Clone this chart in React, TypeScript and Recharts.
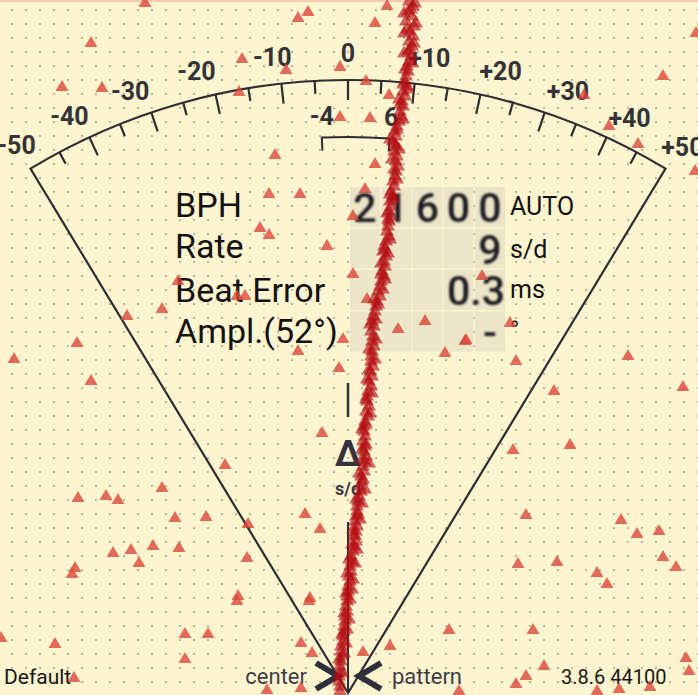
import { ScatterChart, Scatter, XAxis, YAxis, Customized } from "recharts";

const W = 698;
const H = 695;

// stray beats (light red), [offset, time] in screen units
const noise: [number, number][] = [
  [145, 2], [298, 17], [308, 11], [91, 42], [62, 86], [102, 87], [242, 58], [286, 69],
  [340, 66], [239, 91], [340, 116], [275, 154], [269, 193], [300, 193], [387, 5], [375, 22],
  [366, 80], [389, 94], [370, 117], [375, 163], [696, 32], [663, 75], [584, 94], [609, 125],
  [638, 143], [695, 170], [260, 227], [269, 234], [327, 245], [353, 215], [365, 188], [353, 273],
  [178, 280], [237, 295], [245, 295], [162, 308], [367, 298], [482, 275], [425, 320], [398, 328],
  [510, 322], [465, 340], [445, 352], [343, 338], [298, 350], [516, 360], [339, 367], [322, 432],
  [127, 315], [77, 342], [14, 358], [91, 380], [225, 464], [162, 487], [78, 497], [106, 495],
  [118, 499], [175, 517], [206, 516], [248, 523], [113, 552], [131, 549], [153, 545], [179, 547],
  [139, 562], [75, 567], [72, 573], [247, 557], [238, 595], [466, 339], [628, 355], [683, 386],
  [554, 390], [570, 444], [513, 449], [526, 514], [621, 519], [637, 533], [659, 530], [663, 556],
  [676, 566], [518, 563], [557, 561], [597, 572], [607, 583], [1, 637], [55, 643], [185, 633],
  [208, 633], [185, 658], [74, 677], [237, 600], [309, 600], [301, 642], [312, 652], [267, 689],
  [301, 687], [363, 651], [390, 645], [449, 629], [533, 629], [544, 665], [526, 675], [516, 683],
  [459, 690], [597, 690], [619, 688], [650, 686], [686, 657], [689, 670], [320, 528], [310, 597],
  [305, 513],
];

// the running trace (dark red)
const trace: [number, number][] = [
  [409, 0], [413, 5], [408, 10], [412, 15], [406, 20], [414, 25], [410, 30], [413, 35],
  [409, 40], [412, 45], [408, 50], [411, 55], [409, 60], [407, 65], [408, 70], [406, 75],
  [405, 80], [407, 85], [403, 90], [405, 95], [402, 100], [403, 105], [400, 110], [401, 115],
  [399, 120], [397, 125], [395, 130], [396, 135], [393, 140], [396, 145], [394, 150], [397, 155],
  [396, 160], [398, 165], [396, 170], [395, 175], [393, 180], [394, 185], [391, 190], [393, 195],
  [390, 200], [391, 205], [389, 210], [391, 215], [389, 220], [388, 225], [387, 230], [389, 235],
  [386, 240], [384, 245], [383, 250], [386, 255], [384, 260], [385, 265], [382, 270], [384, 275],
  [381, 280], [380, 285], [378, 290], [380, 295], [377, 300], [376, 305], [375, 310], [373, 315],
  [372, 320], [374, 325], [371, 330], [373, 335], [372, 340], [374, 345], [372, 350], [371, 355],
  [371, 360], [373, 365], [370, 370], [372, 375], [369, 380], [371, 385], [368, 390], [367, 395],
  [367, 400], [369, 405], [366, 410], [368, 415], [365, 420], [364, 425], [364, 430], [365, 435],
  [363, 440], [365, 445], [364, 450], [366, 455], [365, 460], [363, 465], [364, 470], [361, 475],
  [362, 480], [360, 485], [361, 490], [359, 495], [358, 500], [357, 505], [357, 510], [356, 515],
  [355, 520], [357, 525], [356, 530], [355, 535], [356, 540], [354, 545], [353, 550], [351, 555],
  [352, 560], [350, 565], [351, 570], [349, 575], [350, 580], [348, 585], [348, 590], [347, 595],
  [347, 600], [346, 605], [347, 610], [345, 615], [345, 620], [344, 625], [344, 630], [343, 635],
  [343, 640], [341, 645], [341, 650], [342, 655], [341, 660], [340, 665], [340, 670], [339, 675],
  [339, 680], [340, 685], [340, 690],
  [415, 2], [404, 12], [416, 22], [404, 32], [414, 42], [404, 52], [412, 62], [408, 88],
  [399, 98], [403, 118], [390, 138], [399, 148], [392, 158], [397, 178], [393, 198], [387, 212],
  [390, 238], [388, 252], [381, 262], [385, 278], [383, 288], [374, 298], [376, 318], [376, 338],
  [375, 358], [367, 378], [372, 392], [370, 412], [362, 428], [362, 448], [369, 462], [359, 472],
  [365, 488], [362, 502], [360, 518], [353, 528], [357, 548], [355, 562], [347, 572], [352, 588],
  [350, 598], [344, 612], [347, 628], [346, 642], [339, 658], [343, 672],
  [411, 8], [407, 28], [410, 48], [405, 68], [403, 83], [400, 103], [397, 128], [395, 143],
  [394, 168], [390, 193], [388, 218], [385, 248], [381, 273], [378, 303], [370, 323], [369, 348],
  [369, 368], [366, 398], [366, 423], [366, 443], [362, 458], [363, 478], [356, 498], [358, 513],
  [354, 533], [352, 543], [349, 558], [353, 578], [346, 592], [349, 618], [342, 633], [344, 652],
];

const scaleTicks = [-50, -45, -40, -35, -30, -25, -20, -15, -10, -5, 0, 5, 10, 15, 20, 25, 30, 35, 40, 45, 50];
const scaleLabels = ["-50", "-40", "-30", "-20", "-10", "0", "+10", "+20", "+30", "+40", "+50"];
const scaleLabelAngles = [-31.2, -25.8, -19.9, -13.7, -6.8, 0, 7.3, 13.8, 20.1, 26.1, 31.5];

const rowLabels = ["BPH", "Rate", "Beat Error", "Ampl.(52°)"];
const rowValues = ["21600", "9", "0.3", "-"];
const rowUnits = ["AUTO", "s/d", "ms", "°"];

// dial geometry
const CX = 348;
const CY = 693;
const R = 613;
const DEG = 0.624;
const INK = "#2d2d33";

const pt = (deg: number, r: number) => {
  const a = (deg * Math.PI) / 180;
  return [CX + r * Math.sin(a), CY - r * Math.cos(a)];
};

const Dial = () => {
  const [lx, ly] = pt(-50 * DEG, R);
  const [rx, ry] = pt(50 * DEG, R);
  const [bx1, by1] = pt(-2.7, 556);
  const [bx2, by2] = pt(4.3, 556);
  const [bx1i, by1i] = pt(-2.7, 543);
  const [bx2i, by2i] = pt(4.3, 543);
  const [l4x, l4y] = pt(-2.6, 577);
  const [l6x, l6y] = pt(4.3, 577);
  const colX = [350, 381.5, 412.5, 443.5, 475];
  const colW = 30;
  const rowY = [187, 228.5, 270, 311.5];
  const rowH = 40;
  const labelBase = [217, 258, 302, 343];
  const unitBase = [215, 258, 298, 339];
  return (
    <g>
      <defs>
        <filter id="soft" x="-20%" y="-20%" width="140%" height="140%">
          <feGaussianBlur stdDeviation="1" />
        </filter>
      </defs>
      <line x1={0} y1={1} x2={W} y2={1} stroke="#f7c9ae" strokeWidth={2} />
      <path
        d={`M${CX},${CY} L${lx},${ly} A${R},${R} 0 0 1 ${rx},${ry} Z`}
        fill="none"
        stroke={INK}
        strokeWidth={2.2}
      />
      {scaleTicks
        .filter((v) => Math.abs(v) !== 50)
        .map((v) => {
          const len = v % 10 === 0 ? 20 : 13;
          const [x1, y1] = pt(v * DEG, R);
          const [x2, y2] = pt(v * DEG, R - len);
          return <line key={v} x1={x1} y1={y1} x2={x2} y2={y2} stroke={INK} strokeWidth={2.2} />;
        })}
      {scaleLabels.map((s, i) => {
        const [x, y] = pt(scaleLabelAngles[i], 640);
        return (
          <text key={s} x={x} y={y} textAnchor="middle" dominantBaseline="central"
            fontFamily="Roboto" fontWeight={700} fontSize={25} fill="#333338">
            {s}
          </text>
        );
      })}
      <path
        d={`M${bx1i},${by1i} L${bx1},${by1} A556,556 0 0 1 ${bx2},${by2} L${bx2i},${by2i}`}
        fill="none"
        stroke={INK}
        strokeWidth={2}
      />
      <text x={l4x} y={l4y} textAnchor="middle" dominantBaseline="central"
        fontFamily="Roboto" fontWeight={700} fontSize={25} fill="#333338">-4</text>
      <text x={l6x} y={l6y} textAnchor="middle" dominantBaseline="central"
        fontFamily="Roboto" fontWeight={700} fontSize={25} fill="#333338">6</text>

      <line x1={CX} y1={383} x2={CX} y2={417} stroke={INK} strokeWidth={2.5} />
      <text x={CX} y={466} textAnchor="middle" fontFamily="Roboto" fontWeight={700} fontSize={36} fill="#33333d">Δ</text>
      <text x={CX} y={495} textAnchor="middle" fontFamily="Roboto" fontWeight={700} fontSize={18} fill="#3a3a44">s/d</text>
      <line x1={CX} y1={522} x2={CX} y2={CY} stroke={INK} strokeWidth={2} />

      {rowY.map((y) =>
        colX.map((x) => <rect key={`${x}-${y}`} x={x} y={y} width={colW} height={rowH} fill="#ece5c7" />)
      )}
      {rowLabels.map((s, i) => (
        <text key={s} x={175} y={labelBase[i]} fontFamily="Roboto" fontSize={34} fill="#121212">{s}</text>
      ))}
      {rowValues.map((v, i) => {
        const base = rowY[i] + 35;
        if (v.includes(".")) {
          return (
            <text key={i} x={505} y={base} textAnchor="end" fontFamily="Roboto" fontWeight={500}
              fontSize={41} fill="#1b1b24" filter="url(#soft)">{v}</text>
          );
        }
        const chars = v.split("");
        return chars.map((c, j) => {
          const col = 5 - chars.length + j;
          return (
            <text key={`${i}-${j}`} x={colX[col] + colW / 2} y={base} textAnchor="middle"
              fontFamily="Roboto" fontWeight={500} fontSize={41} fill="#1b1b24" filter="url(#soft)">{c}</text>
          );
        });
      })}
      {rowUnits.map((s, i) => (
        <text key={s} x={510} y={unitBase[i]} fontFamily="Roboto" fontSize={25} fill="#121212">{s}</text>
      ))}

      <text x={4} y={684} fontFamily="Roboto" fontSize={21} fill="#161616">Default</text>
      <text x={307} y={684} textAnchor="end" fontFamily="Roboto" fontSize={22} fill="#3d3d48">center</text>
      <text x={392} y={684} fontFamily="Roboto" fontSize={22} fill="#3d3d48">pattern</text>
      <text x={561} y={684} fontFamily="Roboto" fontSize={20} fill="#161616">3.8.6 44100</text>
      <polyline points="316,663 338,676 316,689" fill="none" stroke="#2f2f3c" strokeWidth={6} />
      <polyline points="381,663 359,676 381,689" fill="none" stroke="#2f2f3c" strokeWidth={6} />
    </g>
  );
};

const Tri = (fill: string, opacity: number, w: number, h: number) => (props: any) => {
  const { cx, cy } = props;
  return (
    <path
      d={`M${cx},${cy - h * 0.55} L${cx + w / 2},${cy + h * 0.45} L${cx - w / 2},${cy + h * 0.45} Z`}
      fill={fill}
      fillOpacity={opacity}
    />
  );
};

const noiseData = noise.map(([x, y]) => ({ x, y }));
const traceData = trace.map(([x, y]) => ({ x, y }));

export default function App() {
  return (
    <div
      style={{
        position: "absolute",
        left: 0,
        top: 0,
        width: W,
        height: H,
        backgroundColor: "#fdf5d0",
        backgroundImage: "radial-gradient(circle, #bdb69d 0, #bdb69d 1px, transparent 1.4px)",
        backgroundSize: "14px 14px",
        backgroundPosition: "5px 3px",
      }}
    >
      <ScatterChart width={W} height={H} margin={{ top: 0, right: 0, bottom: 0, left: 0 }}>
        <XAxis type="number" dataKey="x" domain={[0, W]} hide />
        <YAxis type="number" dataKey="y" domain={[0, H]} reversed hide />
        <Customized component={<Dial />} />
        <Scatter data={noiseData} shape={Tri("#d9473a", 0.8, 13, 11)} isAnimationActive={false} />
        <Scatter data={traceData} shape={Tri("#b30d12", 0.62, 14, 12)} isAnimationActive={false} />
      </ScatterChart>
    </div>
  );
}
